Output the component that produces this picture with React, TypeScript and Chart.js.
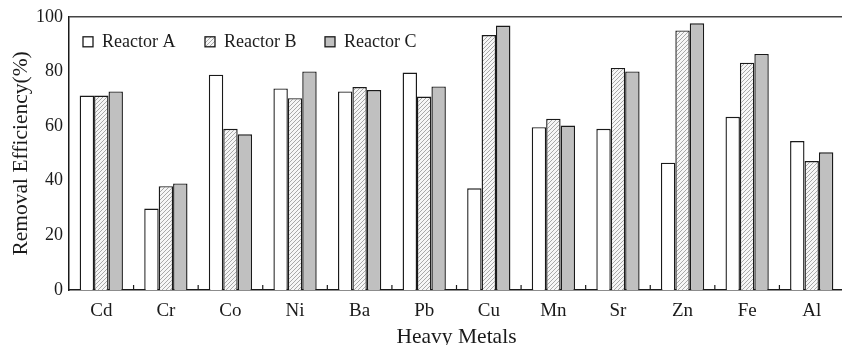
import React, { useEffect, useRef } from 'react';
import { Chart, registerables } from 'chart.js';

Chart.register(...registerables);

const categories = ['Cd', 'Cr', 'Co', 'Ni', 'Ba', 'Pb', 'Cu', 'Mn', 'Sr', 'Zn', 'Fe', 'Al'];
const reactorA = [71.2, 29.8, 78.8, 73.8, 72.7, 79.6, 37.2, 59.6, 59.0, 46.6, 63.4, 54.5];
const reactorB = [71.2, 38.0, 59.0, 70.2, 74.3, 70.8, 93.3, 62.7, 81.3, 95.0, 83.2, 47.2];
const reactorC = [72.7, 39.0, 57.0, 80.0, 73.2, 74.5, 96.8, 60.2, 80.0, 97.6, 86.4, 50.4];
const seriesNames = ['Reactor A', 'Reactor B', 'Reactor C'];
const yMin = 0;
const yMax = 100;
const yStep = 20;
const xTitle = 'Heavy Metals';
const yTitle = 'Removal Efficiency(%)';

const FONT = "'Liberation Serif', 'Times New Roman', serif";
const INK = '#1a1a1a';

function makeHatch(): CanvasPattern | string {
  const c = document.createElement('canvas');
  c.width = 4;
  c.height = 4;
  const g = c.getContext('2d');
  if (!g) return '#dddddd';
  g.fillStyle = '#f6f6f6';
  g.fillRect(0, 0, 4, 4);
  g.strokeStyle = '#a8a8a8';
  g.lineWidth = 1;
  g.beginPath();
  g.moveTo(0, 4);
  g.lineTo(4, 0);
  g.moveTo(-1, 1);
  g.lineTo(1, -1);
  g.moveTo(3, 5);
  g.lineTo(5, 3);
  g.stroke();
  return g.createPattern(c, 'repeat') || '#dddddd';
}

const framePlugin = {
  id: 'frame',
  afterDatasetsDraw(chart: any) {
    const { ctx, chartArea: a, scales } = chart;
    ctx.save();
    ctx.strokeStyle = '#444';
    ctx.lineWidth = 1.5;
    ctx.beginPath();
    ctx.moveTo(a.left, a.top);
    ctx.lineTo(a.right, a.top);
    ctx.lineTo(a.right, a.bottom);
    ctx.stroke();
    const x = scales.x;
    ctx.strokeStyle = INK;
    ctx.lineWidth = 1.2;
    ctx.beginPath();
    for (let i = 1; i < categories.length; i++) {
      const px = (x.getPixelForValue(i - 1) + x.getPixelForValue(i)) / 2;
      ctx.moveTo(px, a.bottom);
      ctx.lineTo(px, a.bottom - 5);
    }
    ctx.stroke();

    // in-plot legend, one row
    const legendX = [a.left + 14, a.left + 136, a.left + 256];
    const cy = a.top + 25;
    ctx.font = `18px ${FONT}`;
    ctx.textBaseline = 'middle';
    ctx.textAlign = 'left';
    chart.data.datasets.forEach((ds: any, i: number) => {
      const bx = legendX[i];
      ctx.fillStyle = ds.backgroundColor;
      ctx.fillRect(bx, cy - 5, 10, 10);
      ctx.strokeStyle = INK;
      ctx.lineWidth = 1.3;
      ctx.strokeRect(bx, cy - 5, 10, 10);
      ctx.fillStyle = INK;
      ctx.fillText(ds.label, bx + 19, cy);
    });
    ctx.restore();
  },
};

export default function App() {
  const ref = useRef<HTMLCanvasElement | null>(null);

  useEffect(() => {
    if (!ref.current) return;
    const hatch = makeHatch();
    const common = {
      borderColor: INK,
      borderWidth: 1.4,
      categoryPercentage: 0.67,
      barPercentage: 1.0,
    };
    const chart = new Chart(ref.current, {
      type: 'bar',
      data: {
        labels: categories,
        datasets: [
          { label: seriesNames[0], data: reactorA, backgroundColor: '#ffffff', ...common },
          { label: seriesNames[1], data: reactorB, backgroundColor: hatch as any, ...common },
          { label: seriesNames[2], data: reactorC, backgroundColor: '#c0c0c0', ...common },
        ],
      },
      options: {
        responsive: false,
        animation: false,
        layout: { padding: { top: 16, right: 6, bottom: 0, left: 0 } },
        font: { family: FONT },
        plugins: {
          tooltip: { enabled: false },
          legend: { display: false },
        },
        scales: {
          x: {
            grid: { display: false, drawTicks: false },
            border: { display: true, color: INK, width: 1.5 },
            ticks: { color: INK, padding: 10, font: { family: FONT, size: 19 }, maxRotation: 0 },
            title: {
              display: true,
              text: xTitle,
              color: INK,
              font: { family: FONT, size: 21.5 },
              padding: { top: 0, bottom: 5 },
            },
            afterFit: (s: any) => {
              s.height = 65;
            },
          },
          y: {
            min: yMin,
            max: yMax,
            grid: { display: false, drawTicks: false },
            border: { display: true, color: INK, width: 1.5 },
            ticks: { stepSize: yStep, color: INK, padding: 6, font: { family: FONT, size: 18 } },
            title: {
              display: true,
              text: yTitle,
              color: INK,
              font: { family: FONT, size: 21.5 },
              padding: { top: 8, bottom: 0 },
            },
            afterFit: (s: any) => {
              s.width = 69;
            },
          },
        },
      } as any,
      plugins: [framePlugin],
    });
    return () => chart.destroy();
  }, []);

  return (
    <div
      style={{
        position: 'absolute',
        left: 0,
        top: 0,
        width: 842,
        height: 345,
        overflow: 'hidden',
        background: '#ffffff',
      }}
    >
      <canvas ref={ref} width={850} height={355} style={{ display: 'block' }} />
    </div>
  );
}
